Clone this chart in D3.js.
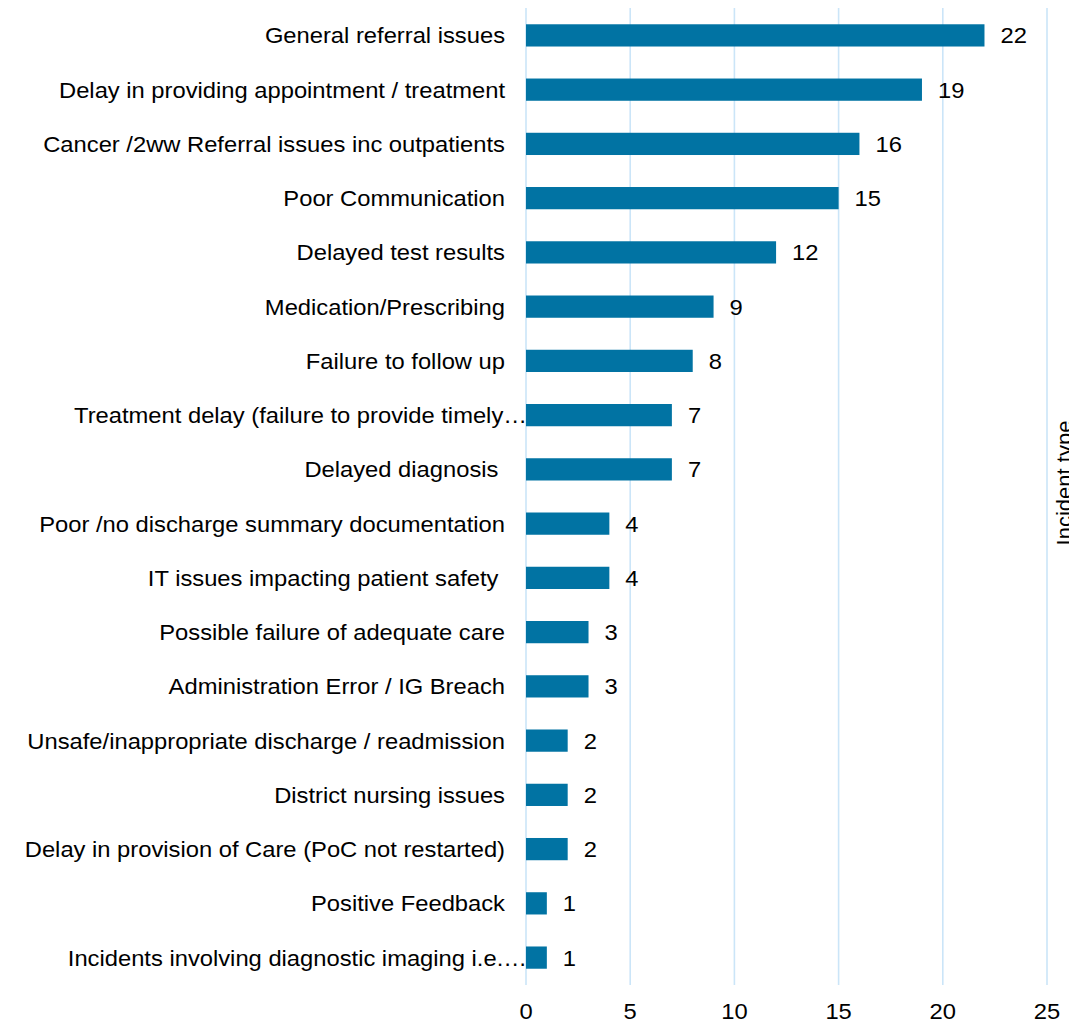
<!DOCTYPE html>
<html>
<head>
<meta charset="utf-8">
<script src="https://cdn.jsdelivr.net/npm/d3@7"></script>
<style>
  html, body { margin: 0; padding: 0; background: #fff; overflow: hidden; }
  text { font-family: "Liberation Sans", Arial, sans-serif; fill: #000; white-space: pre; }
</style>
</head>
<body>
<div id="chart"></div>
<script>
// Incident categories, largest first (top to bottom).
var categories = [
  "General referral issues",
  "Delay in providing appointment / treatment",
  "Cancer /2ww Referral issues inc outpatients",
  "Poor Communication",
  "Delayed test results",
  "Medication/Prescribing",
  "Failure to follow up",
  "Treatment delay (failure to provide timely…",
  "Delayed diagnosis ",
  "Poor /no discharge summary documentation",
  "IT issues impacting patient safety ",
  "Possible failure of adequate care",
  "Administration Error / IG Breach",
  "Unsafe/inappropriate discharge / readmission",
  "District nursing issues",
  "Delay in provision of Care (PoC not restarted)",
  "Positive Feedback",
  "Incidents involving diagnostic imaging i.e.…"
];
var counts = [22, 19, 16, 15, 12, 9, 8, 7, 7, 4, 4, 3, 3, 2, 2, 2, 1, 1];
var xTicks = [0, 5, 10, 15, 20, 25];
var sideTitle = "Incident type";

(function () {
  "use strict";

  var width = 1069, height = 1024;
  var x0 = 526, x1 = 1047, yTop = 8, yBottom = 985;
  var stretch = "scale(1.08,1)";

  var svg = d3.select("#chart").append("svg")
    .attr("width", width)
    .attr("height", height);

  var x = d3.scaleLinear().domain([0, 25]).range([x0, x1]);
  var y = d3.scaleBand().domain(categories).range([yTop, yBottom]).paddingInner(0.59).paddingOuter(0.3);

  // vertical gridlines
  svg.append("g")
    .selectAll("line")
    .data(xTicks)
    .join("line")
    .attr("x1", function (d) { return x(d); })
    .attr("x2", function (d) { return x(d); })
    .attr("y1", yTop)
    .attr("y2", yBottom)
    .attr("stroke", "#cbe5f8")
    .attr("stroke-width", 1.6);

  // bars
  svg.append("g")
    .selectAll("rect")
    .data(categories)
    .join("rect")
    .attr("x", x(0))
    .attr("y", function (d) { return y(d); })
    .attr("width", function (d, i) { return x(counts[i]) - x(0); })
    .attr("height", y.bandwidth())
    .attr("fill", "#0173a3");

  function stretchedText(g, px, py, anchor) {
    return g.append("g")
      .attr("transform", "translate(" + px + "," + py + ") " + stretch)
      .append("text")
      .attr("text-anchor", anchor)
      .attr("font-size", "22px");
  }

  // category labels
  var labels = svg.append("g");
  categories.forEach(function (c) {
    var truncated = c.slice(-1) === "…";
    stretchedText(labels, truncated ? x0 + 1 : x0 - 21, y(c) + y.bandwidth() / 2 + 8, "end")
      .text(c);
  });

  // value labels
  var values = svg.append("g");
  categories.forEach(function (c, i) {
    stretchedText(values, x(counts[i]) + 16, y(c) + y.bandwidth() / 2 + 8, "start")
      .text(counts[i]);
  });

  // x axis tick labels
  var ticks = svg.append("g");
  xTicks.forEach(function (t) {
    stretchedText(ticks, x(t), 1019, "middle").text(t);
  });

  // axis title, mostly cut off at the right edge
  svg.append("text")
    .attr("transform", "translate(1072,483) rotate(-90)")
    .attr("text-anchor", "middle")
    .attr("font-size", "22px")
    .text(sideTitle);
})();
</script>
</body>
</html>
